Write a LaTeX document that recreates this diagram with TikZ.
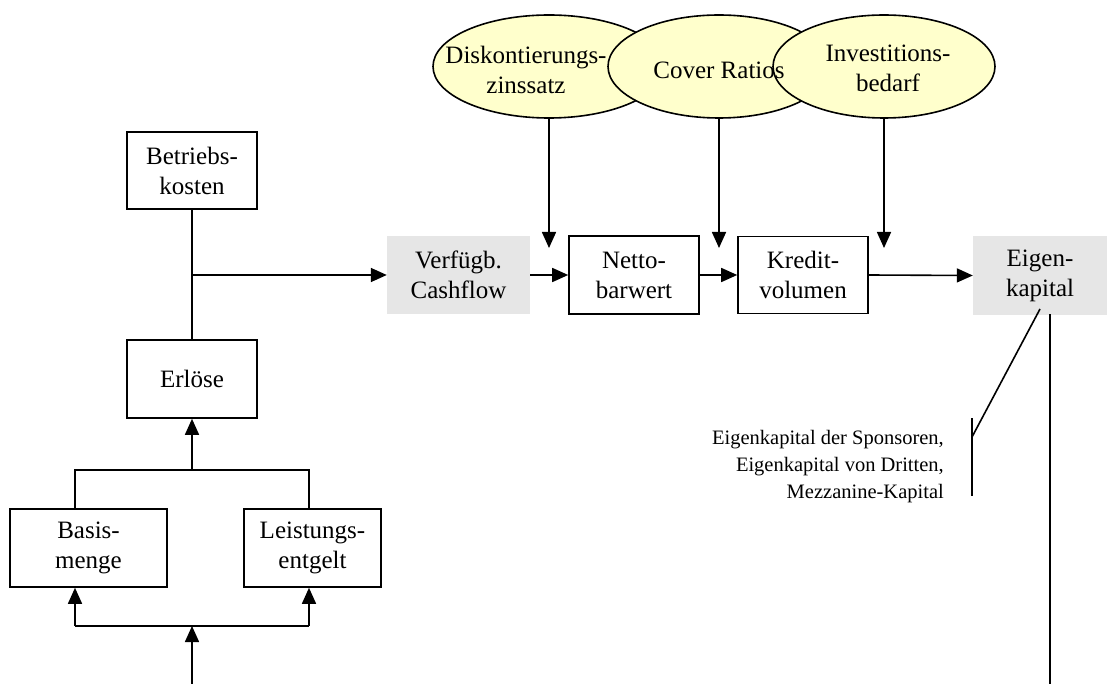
\documentclass[tikz,border=0pt]{standalone}
\usepackage{fontspec}
\setmainfont{Liberation Serif}
\usetikzlibrary{arrows.meta,shapes.geometric}
\definecolor{ellfill}{HTML}{FFFFCC}
\definecolor{grayfill}{HTML}{E6E6E6}
\tikzset{
  box/.style={draw, line width=1.6pt, fill=white, inner sep=0pt, align=center, font=\fontsize{25}{30}\selectfont},
  graybox/.style={fill=grayfill, inner sep=0pt, align=center, font=\fontsize{25}{30}\selectfont},
  ell/.style={ellipse, draw, line width=1.6pt, fill=ellfill, inner sep=0pt},
  elltext/.style={inner sep=0pt, align=center, font=\fontsize{25}{30}\selectfont},
  conn/.style={line width=1.6pt},
  arr/.style={line width=1.6pt, -{Triangle[length=16pt,width=14pt]}},
}
\begin{document}
\begin{tikzpicture}[x=1pt,y=-1pt]
\useasboundingbox (0,0) rectangle (1107,684);
% ellipses
\node[ell, minimum width=232pt, minimum height=103pt] (disk) at (549,66.5) {};
\node[ell, minimum width=222pt, minimum height=103pt] (cover) at (719,66.5) {};
\node[ell, minimum width=222pt, minimum height=103pt] (inv) at (884,66.5) {};
\node[elltext] (disklabel) at (526,70) {Diskontierungs-\\zinssatz};
\node[elltext] (coverlabel) at (719,70) {Cover Ratios};
\node[elltext] (invlabel) at (888,68) {Investitions-\\bedarf};
% boxes
\node[box, minimum width=130pt, minimum height=77pt] (betr) at (192,170.5) {Betriebs-\\kosten};
\node[box, minimum width=130pt, minimum height=78pt] (erl) at (192,379) {Erlöse};
\node[box, minimum width=157pt, minimum height=78pt] (basis) at (88.5,548) {Basis-\\menge};
\node[box, minimum width=137pt, minimum height=78pt] (leist) at (312.5,548) {Leistungs-\\entgelt};
\node[graybox, minimum width=143pt, minimum height=78pt] (verf) at (458.5,275) {Verfügb.\\Cashflow};
\node[box, minimum width=130pt, minimum height=78pt] (netto) at (634,275) {Netto-\\barwert};
\node[box, minimum width=130pt, minimum height=77pt] (kred) at (803,275) {Kredit-\\volumen};
\node[graybox, minimum width=134pt, minimum height=78pt] (eigen) at (1040,275.5) {Eigen-\\kapital};
% text
\node[anchor=east, align=right, inner sep=0pt, font=\fontsize{20.5}{27}\selectfont] (ektext) at (944,467) {Eigenkapital der Sponsoren,\\Eigenkapital von Dritten,\\Mezzanine-Kapital};
% coordinates
\coordinate (j1) at (192,275);
\coordinate (j2) at (192,470);
\coordinate (jb) at (75,470);
\coordinate (jl) at (309,470);
\coordinate (k1) at (192,626);
\coordinate (kb) at (75,626);
\coordinate (kl) at (309,626);
\coordinate (bot) at (192,684);
\coordinate (d1) at (549,248);
\coordinate (c1) at (719,248);
\coordinate (i1) at (884,248);
\coordinate (e1) at (1040,309);
\coordinate (e2) at (972,437);
\coordinate (b1) at (972,418);
\coordinate (b2) at (972,496);
\coordinate (v1) at (1050,314);
\coordinate (v2) at (1050,684);
% connectors
\draw[conn] (betr.south) -- (erl.north);
\draw[arr] (j1) -- (verf.west);
\draw[arr] (verf.east) -- (netto.west);
\draw[arr] (netto.east) -- (kred.west);
\draw[arr] (kred.east) -- (eigen.west);
\draw[arr] (disk.south) -- (d1);
\draw[arr] (cover.south) -- (c1);
\draw[arr] (inv.south) -- (i1);
\draw[conn] (basis.north -| jb) -- (jb) -- (jl) -- (leist.north -| jl);
\draw[arr] (j2) -- (erl.south);
\draw[arr] (bot) -- (k1);
\draw[conn] (kb) -- (kl);
\draw[arr] (kb) -- (basis.south -| kb);
\draw[arr] (kl) -- (leist.south -| kl);
\draw[conn] (e1) -- (e2);
\draw[conn] (b1) -- (b2);
\draw[conn] (v1) -- (v2);
\end{tikzpicture}
\end{document}
